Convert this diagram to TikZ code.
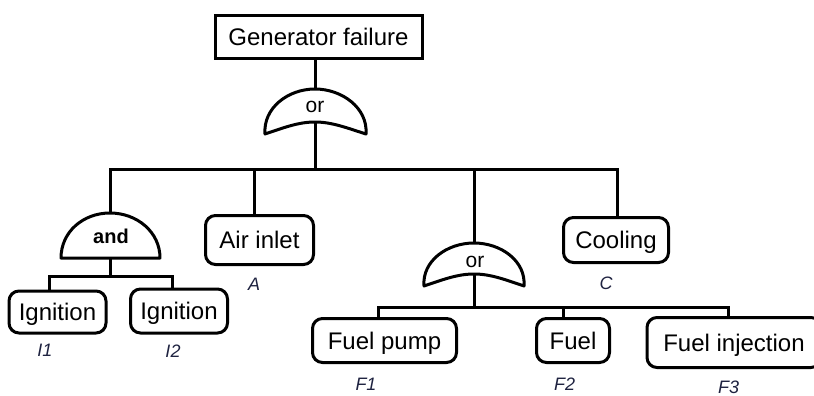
\documentclass[tikz,border=0pt]{standalone}
\usepackage{fontspec}
\setmainfont{Liberation Sans}
\usetikzlibrary{calc}
\definecolor{lbl}{HTML}{1E2240}
\begin{document}
\begin{tikzpicture}[x=1pt,y=-1pt,
  ln/.style={line width=3pt},
  gateline/.style={line width=3pt, line join=round, fill=white},
  topbox/.style={draw, line width=3pt, inner sep=0pt, font=\fontsize{24}{24}\selectfont, text height=17pt, text depth=0pt},
  evt/.style={draw, line width=3pt, rounded corners=10pt, inner sep=0pt, font=\fontsize{24}{24}\selectfont, text height=17pt, text depth=0pt},
  gtxt/.style={anchor=base, inner sep=0pt, font=\fontsize{21}{21}\selectfont},
  lab/.style={inner sep=0pt, text=lbl, font=\fontsize{18}{18}\selectfont\itshape, text height=13pt, text depth=0pt}]
\useasboundingbox (0,0) rectangle (814,396);

% top event
\node[topbox, minimum width=207pt, minimum height=43pt] (top) at (318.5,37) {Generator failure};

% gate 1 (or)
\coordinate (g1top) at (315,89);
\coordinate (g1in) at (315,122);
\draw[gateline] (265,134) .. controls (263,108) and (288,89) .. (g1top)
  .. controls (342,89) and (368,108) .. (366,134)
  .. controls (347,128) and (332,122) .. (g1in)
  .. controls (298,122) and (283,128) .. cycle;
\node[gtxt] (g1t) at (315,112) {or};

% and gate
\coordinate (andtop) at (110,213);
\coordinate (andbot) at (110,258);
\draw[gateline] (61,258) .. controls (61,232) and (83,213) .. (andtop)
  .. controls (137,213) and (160,232) .. (160,258) -- cycle;
\node[gtxt, font=\fontsize{20}{20}\selectfont\bfseries] (andt) at (111,243) {and};

% gate 2 (or)
\coordinate (g2top) at (474,243);
\coordinate (g2in) at (474,274);
\draw[gateline] (424,286) .. controls (422,261) and (447,243) .. (g2top)
  .. controls (501,243) and (526,261) .. (524,286)
  .. controls (506,280) and (491,274) .. (g2in)
  .. controls (457,274) and (442,280) .. cycle;
\node[gtxt] (g2t) at (475,267) {or};

% events
\node[evt, minimum width=97pt, minimum height=42pt] (ign1) at (57.5,312) {Ignition};
\node[evt, minimum width=97pt, minimum height=44pt] (ign2) at (179,311) {Ignition};
\node[evt, minimum width=108pt, minimum height=49pt] (air) at (259.5,240) {Air inlet};
\node[evt, minimum width=105pt, minimum height=45pt] (cool) at (616,240) {Cooling};
\node[evt, minimum width=144pt, minimum height=44pt] (fp) at (384.5,340.5) {Fuel pump};
\node[evt, minimum width=73pt, minimum height=44pt] (fuel) at (573,340.5) {Fuel};
\node[evt, minimum width=174pt, minimum height=50pt] (finj) at (734,342.5) {Fuel injection};

% labels
\node[lab] (lI1) at (45,350) {I1};
\node[lab] (lI2) at (173,351) {I2};
\node[lab] (lA) at (254,284) {A};
\node[lab] (lC) at (606,283) {C};
\node[lab] (lF1) at (366,383.5) {F1};
\node[lab] (lF2) at (564.5,383.5) {F2};
\node[lab] (lF3) at (728.5,386.5) {F3};

% connectors
\coordinate (bar) at (315,169);
\draw[ln] (g1top |- top.south) -- (g1top);
\draw[ln] (g1in) -- (bar);
\draw[ln] (andtop) |- (bar) -| ([xshift=1pt]cool.north);
\draw[ln] ([xshift=-5.5pt]air.north) -- ([xshift=-5.5pt]air.north |- bar);
\draw[ln] (g2top) -- (g2top |- bar);

\coordinate (bar2) at (110,276);
\draw[ln] (andbot) -- (bar2);
\draw[ln] ([xshift=-8.5pt]ign1.north) |- (bar2) -| ([xshift=-7pt]ign2.north);

\coordinate (bar3) at (474,307);
\draw[ln] (g2in) -- (bar3);
\draw[ln] ([xshift=-6.5pt]fp.north) |- (bar3) -| ([xshift=-6pt]finj.north);
\draw[ln] ([xshift=-10pt]fuel.north) -- ([xshift=-10pt]fuel.north |- bar3);
\end{tikzpicture}
\end{document}
